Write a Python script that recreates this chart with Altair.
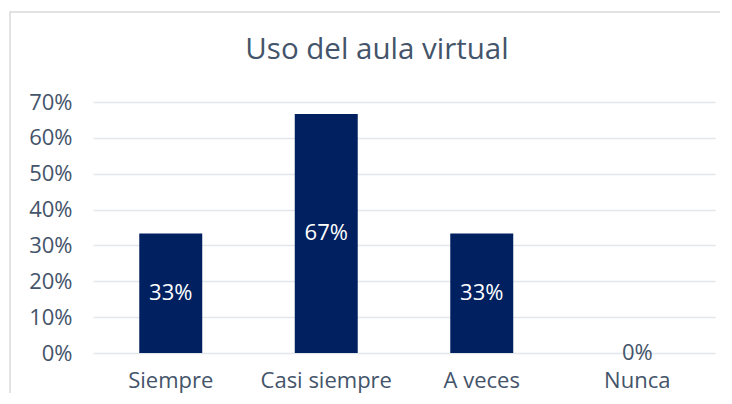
import altair as alt
import pandas as pd

categories = ["Siempre", "Casi siempre", "A veces", "Nunca"]
values = [0.3333, 0.6667, 0.3333, 0.0]
labels = ["33%", "67%", "33%", "0%"]
ticks = [0, 0.1, 0.2, 0.3, 0.4, 0.5, 0.6, 0.7]

df = pd.DataFrame({"cat": categories, "val": values, "lab": labels})
df["mid"] = df["val"] / 2

TXT = "#44546A"
FONT = "Open Sans"
AXF = "Open Sans"
FS = 22

base = alt.Chart(df)

yscale = alt.Scale(domain=[0, 0.7], nice=False)
xscale = alt.Scale(paddingInner=0.595, paddingOuter=0.2975)
xaxis = alt.Axis(labelAngle=0, domain=False, ticks=False, labelPadding=17,
                 labelFontSize=FS, labelColor=TXT, labelFont=AXF)
yaxis = alt.Axis(format=".0%", values=ticks, labelOverlap=False,
                 domain=False, ticks=False, labelPadding=21,
                 labelFontSize=FS, labelColor=TXT, labelFont=AXF,
                 gridColor="#E3E6EA", gridWidth=1.5)

bars = base.mark_bar(color="#002060").encode(
    x=alt.X("cat:N", sort=categories, title=None, scale=xscale, axis=xaxis),
    y=alt.Y("val:Q", title=None, scale=yscale, axis=yaxis),
)

text = base.mark_text(fontSize=FS, font=AXF, baseline="middle").encode(
    x=alt.X("cat:N", sort=categories, title=None, scale=xscale, axis=xaxis),
    y=alt.Y("mid:Q", title=None, scale=yscale, axis=yaxis),
    text="lab:N",
    color=alt.condition(alt.datum.val > 0, alt.value("white"), alt.value(TXT)),
)

border = alt.Chart(pd.DataFrame({"a": [0]})).mark_rect(
    fill=None, stroke="#D9D9D9", strokeWidth=1.5, clip=False
).encode(x=alt.value(-83), x2=alt.value(650), y=alt.value(-90), y2=alt.value(320))

title = alt.Chart(pd.DataFrame({"t": ["Uso del aula virtual"]})).mark_text(
    fontSize=29.5, font=FONT, color=TXT, align="center", baseline="middle"
).encode(x=alt.value(284), y=alt.value(-52), text="t:N")

chart = alt.layer(border, bars, text, title).properties(
    width=622, height=251,
    autosize=alt.AutoSizeParams(type="none"),
    padding={"left": 85, "top": 94, "right": 5, "bottom": 40},
).configure_view(stroke=None)

chart.save("out.html", embed_options={"renderer": "svg", "actions": False})
